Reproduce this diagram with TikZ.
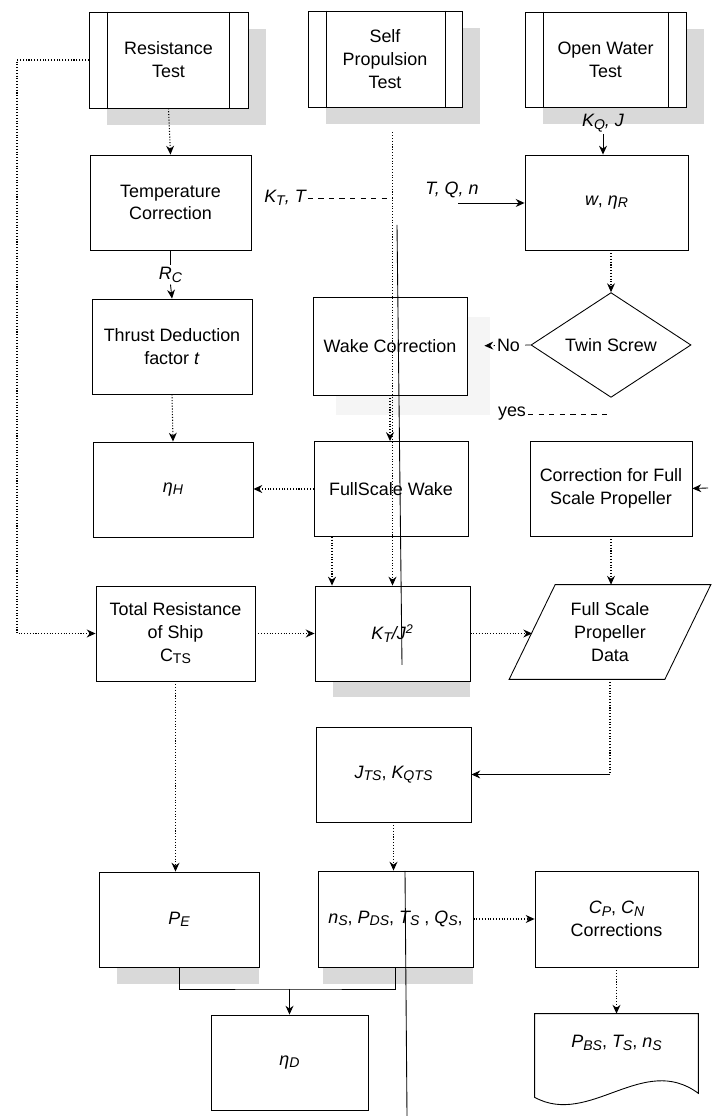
\documentclass[tikz,border=0pt]{standalone}
\usepackage{fontspec}
\setmainfont{Liberation Sans}
\usepackage{tikz}
\usepackage{tkz-euclide}
\usetikzlibrary{shapes.geometric,arrows.meta,backgrounds}

\newcommand{\iv}[2]{\textit{#1\raisebox{-.25ex}{\footnotesize #2}}}

\begin{document}
\begin{tikzpicture}[>={Stealth[length=5pt,width=4.5pt]},
  font=\fontsize{10.2}{13}\selectfont,
  caixa/.style={draw, line width=0.5pt, fill=white, align=center, minimum width=3.2cm, minimum height=1.9cm, inner sep=2pt},
  caixam/.style={caixa, minimum width=3.1cm},
  losango/.style={draw, diamond, line width=0.5pt, fill=white, minimum width=3.2cm, minimum height=1.9cm, inner sep=0pt},
  pontilhado/.style={densely dotted, line width=0.6pt},
  tracejado/.style={dashed, line width=0.5pt},
  sombra/.style={fill=gray!30},
  rotulo/.style={font=\fontsize{10.2}{13}\selectfont\itshape, inner sep=1pt}] %estilos das caixas e das ligacoes

\useasboundingbox (0,0) rectangle (14.22,22.32);

%O comando \tkzDefPoints define os centros das caixas e os pontos auxiliares das ligacoes (x/y/NomedoPonto)
\tkzDefPoints{
3.37/21.12/RT,
7.70/21.14/SP,
12.11/21.13/OW,
3.41/18.27/TC,
12.13/18.27/WR,
3.44/15.39/TD,
7.80/15.40/WC,
12.22/15.42/TS,
3.46/12.53/EH,
7.82/12.54/FW,
12.22/12.55/CF,
3.51/9.65/CT,
7.85/9.65/KJ,
12.20/9.68/FD,
7.87/6.83/JK,
3.58/3.93/PE,
7.91/3.94/NS,
12.33/3.94/CN,
5.79/1.07/ED,
12.33/1.46/PB}

%Pontos auxiliares: rotulos, cantos das ligacoes e a linha vertical continua
\tkzDefPoints{
12.06/19.86/KQ,
5.70/18.36/KT,
9.04/18.52/TQ,
9.16/18.26/TA,
3.41/16.82/RC,
10.24/14.04/YS,
14.16/12.56/CI,
0.34/21.08/LU,
5.79/2.54/JU,
7.94/17.82/SA,
8.04/9.02/SB,
8.10/4.90/SC,
8.14/0/SD}

%Ensaios (caixas com barras laterais)
%---------------------------------------------------
\node[caixa, minimum width=3.18cm, minimum height=1.92cm] (rtest) at (RT) {Resistance\\Test};
\node[caixam, minimum width=3.08cm, minimum height=1.92cm] (sptest) at (SP) {Self\\Propulsion\\Test};
\node[caixa, minimum width=3.22cm] (owtest) at (OW) {Open Water\\Test};
\draw[line width=0.5pt] ([xshift=0.38cm]rtest.north west) -- ([xshift=0.38cm]rtest.south west) ([xshift=-0.38cm]rtest.north east) -- ([xshift=-0.38cm]rtest.south east);
\draw[line width=0.5pt] ([xshift=0.38cm]sptest.north west) -- ([xshift=0.38cm]sptest.south west) ([xshift=-0.34cm]sptest.north east) -- ([xshift=-0.34cm]sptest.south east);
\draw[line width=0.5pt] ([xshift=0.38cm]owtest.north west) -- ([xshift=0.38cm]owtest.south west) ([xshift=-0.36cm]owtest.north east) -- ([xshift=-0.36cm]owtest.south east);
%---------------------------------------------------

%Caixas de calculo
%---------------------------------------------------
\node[caixa, minimum width=3.22cm] (tcorr) at (TC) {Temperature\\Correction};
\node[caixa, minimum width=3.26cm] (wr) at (WR) {\textit{w}, \iv{η}{R}};
\node[caixa] (thrust) at (TD) {Thrust Deduction\\factor \textit{t}};
\node[caixam, minimum width=3.08cm, minimum height=1.96cm] (wake) at (WC) {Wake Correction};
\node[losango] (twin) at (TS) {Twin Screw};
\node[caixa] (etah) at (EH) {\iv{η}{H}};
\node[caixam, minimum width=3.08cm] (fsw) at (FW) {FullScale Wake};
\node[caixa, minimum width=3.24cm] (corrfs) at (CF) {Correction for Full\\Scale Propeller};
\node[caixa, minimum width=3.18cm] (ctotal) at (CT) {Total Resistance\\of Ship\\C\raisebox{-.25ex}{\footnotesize TS}};
\node[caixam] (ktj) at (KJ) {\iv{K}{T}\textit{/J\textsuperscript{2}}};
\node[minimum width=3.1cm, minimum height=1.88cm, align=center] (fspd) at (FD) {Full Scale\\Propeller\\Data};
\draw[line width=0.5pt] ([xshift=-0.46cm]fspd.south west) -- ([xshift=0.46cm]fspd.north west) -- ([xshift=0.46cm]fspd.north east) -- ([xshift=-0.46cm]fspd.south east) -- cycle;
\node[caixam] (jts) at (JK) {\iv{J}{TS}, \iv{K}{QTS}};
\node[caixa] (pe) at (PE) {\iv{P}{E}};
\node[caixam, minimum height=1.92cm] (ns) at (NS) {\iv{n}{S}, \iv{P}{DS}, \iv{T}{S} , \iv{Q}{S},};
\node[caixa, minimum width=3.26cm, minimum height=1.92cm] (cpcn) at (CN) {\iv{C}{P}, \iv{C}{N}\\Corrections};
\node[caixa, minimum width=3.14cm] (etad) at (ED) {\iv{η}{D}};
\node[inner sep=0pt, minimum width=3.26cm, minimum height=1.16cm, align=center] (pbs) at (PB) {\iv{P}{BS}, \iv{T}{S}, \iv{n}{S}};
%---------------------------------------------------

%Sombras e contorno do documento (camada de fundo)
%---------------------------------------------------
\begin{pgfonlayer}{background}
\fill[sombra] ([shift={(0.36,-0.34)}]rtest.south west) rectangle ([shift={(0.36,-0.34)}]rtest.north east);
\fill[sombra] ([shift={(0.36,-0.34)}]sptest.south west) rectangle ([shift={(0.36,-0.34)}]sptest.north east);
\fill[sombra] ([shift={(0.36,-0.34)}]owtest.south west) rectangle ([shift={(0.36,-0.34)}]owtest.north east);
\fill[gray!8] ([shift={(0.46,-0.4)}]wake.south west) rectangle ([shift={(0.46,-0.4)}]wake.north east);
\fill[sombra] ([xshift=0.36cm]ktj.south west) rectangle ([yshift=-0.32cm]ktj.south east);
\fill[sombra] ([xshift=0.36cm]pe.south west) rectangle ([yshift=-0.34cm]pe.south east);
\fill[sombra] ([xshift=0.1cm]ns.south west) rectangle ([yshift=-0.34cm]ns.south east);
\fill[sombra, yshift=-0.3cm] ([yshift=-0.5cm]pbs.south west) -- (pbs.north west) -- (pbs.north east) -- ([yshift=-0.42cm]pbs.south east) .. controls +(-1.1,0.82) and +(1.1,-0.6) .. ([yshift=-0.5cm]pbs.south west) -- cycle;
\draw[line width=0.5pt, fill=white] ([yshift=-0.5cm]pbs.south west) -- (pbs.north west) -- (pbs.north east) -- ([yshift=-0.42cm]pbs.south east) .. controls +(-1.1,0.82) and +(1.1,-0.6) .. ([yshift=-0.5cm]pbs.south west) -- cycle;
\end{pgfonlayer}
%---------------------------------------------------

%Rotulos das ligacoes
%---------------------------------------------------
\node[rotulo] (kqj) at (KQ) {\iv{K}{Q}, \textit{J}};
\node[rotulo] (ktt) at (KT) {\iv{K}{T}, \textit{T}};
\node[rotulo] (tqn) at (TQ) {\textit{T}, \textit{Q}, \textit{n}};
\node[rotulo] (rc) at (RC) {\iv{R}{C}};
\node[inner sep=1pt] (sim) at (YS) {yes};
%---------------------------------------------------

%Ligacoes da coluna da esquerda
%---------------------------------------------------
\draw[pontilhado,->] (rtest.south) -- (tcorr.north);
\draw[line width=0.5pt] (tcorr.south) -- (rc.north);
\draw[line width=0.5pt,->] (rc.south) -- (thrust.north);
\draw[pontilhado,->] (thrust.south) -- (etah.north);
\draw[pontilhado,->] (rtest.west) -- (rtest.west -| LU) |- (ctotal.west);
\draw[pontilhado,->] (ctotal.east) -- (ktj.west);
\draw[pontilhado,->] (ctotal.south) -- (ctotal.south |- pe.north);
%---------------------------------------------------

%Ligacoes da coluna do meio
%---------------------------------------------------
\draw[pontilhado,->,shorten <=0.5cm] (sptest.south -| ktj.north) -- (ktj.north);
\draw[tracejado] (ktt.east) -- (ktt.east -| ktj.north);
\draw[line width=0.5pt] (SA) -- (SB);
\draw[line width=0.5pt] (SC) -- (SD);
\draw[pontilhado,->] (wake.south) -- (wake.south |- fsw.north);
\draw[pontilhado,->] (fsw.west) -- (fsw.west -| etah.east);
\draw[pontilhado,->] ([xshift=-1.18cm]fsw.south) -- ([xshift=-1.18cm]fsw.south |- ktj.north);
\draw[pontilhado,->] (ktj.east) -- (ktj.east -| fspd.west);
\draw[pontilhado,->] (jts.south) -- (jts.south |- ns.north);
\draw[pontilhado,->] (ns.east) -- (ns.east -| cpcn.west);
\draw[line width=0.5pt] (pe.south) |- (JU) -| (ns.south);
\draw[line width=0.5pt,->] (JU) -- (etad.north);
%---------------------------------------------------

%Ligacoes da coluna da direita
%---------------------------------------------------
\draw[line width=0.5pt,->] (kqj.south) -- (kqj.south |- wr.north);
\draw[line width=0.5pt,->] (TA) -- (TA -| wr.west);
\draw[pontilhado,->] (wr.south -| twin.north) -- (twin.north);
\draw[tracejado,->,shorten >=0.34cm] (twin.west) -- (wake.east) node[pos=0.35, fill=white, inner sep=1pt] (nao) {No};
\draw[tracejado] (sim.east) -- (sim.east -| twin.south);
\draw[line width=0.5pt,->] (CI) -- (corrfs.east);
\draw[pontilhado,->] (corrfs.south) -- (corrfs.south |- fspd.north);
\draw[pontilhado] (fspd.south) -- (fspd.south |- jts.east) coordinate (dobra);
\draw[line width=0.5pt,->] (dobra) -- (jts.east);
\draw[pontilhado,->] (cpcn.south) -- (pbs.north);
%---------------------------------------------------

\end{tikzpicture}
\end{document}
